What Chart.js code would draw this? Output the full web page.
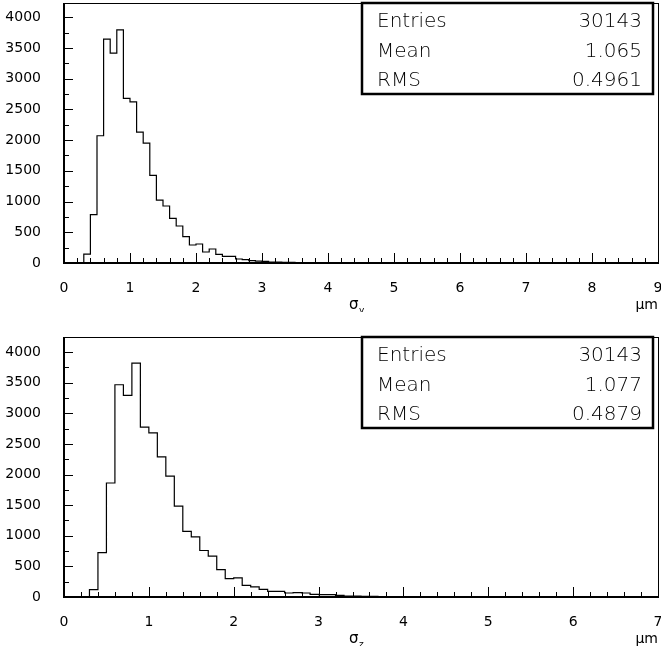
<!DOCTYPE html>
<html>
<head>
<meta charset="utf-8">
<script src="https://cdn.jsdelivr.net/npm/chart.js@4"></script>
<style>
  body { margin: 0; background: #fff; }
  .plot { position: absolute; left: 0; width: 661px; height: 312px; }
</style>
</head>
<body>
<div class="plot" style="top:0"><canvas id="sigmaY" width="661" height="312"></canvas></div>
<div class="plot" style="top:334px"><canvas id="sigmaZ" width="661" height="312"></canvas></div>
<script>
// histogram contents, bins of 0.1 um starting at 0
var binWidth = 0.1;
var sigmaYCounts = [0, 0, 0, 146, 786, 2070, 3642, 3415, 3794, 2677,
    2623, 2130, 1951, 1425, 1024, 927, 726, 602, 428, 293,
    309, 179, 228, 141, 108, 108, 65, 54, 38, 32,
    27, 16, 16, 11, 11, 8, 6, 5, 4, 3,
    3, 2, 2, 1, 1, 1, 0, 0, 0, 0,
    0, 0, 0, 0, 0, 0, 0, 0, 0, 0,
    0, 0, 0, 0, 0, 0, 0, 0, 0, 0,
    0, 0, 0, 0, 0, 0, 0, 0, 0, 0,
    0, 0, 0, 0, 0, 0, 0, 0, 0, 0];
var sigmaZCounts = [0, 0, 0, 120, 726, 1861, 3465, 3291, 3820, 2772,
    2679, 2287, 1975, 1484, 1070, 982, 759, 666, 447, 300,
    311, 191, 164, 126, 93, 93, 65, 71, 65, 44,
    38, 38, 27, 16, 14, 11, 9, 8, 6, 5,
    4, 3, 3, 2, 2, 1, 1, 0, 0, 0,
    0, 0, 0, 0, 0, 0, 0, 0, 0, 0,
    0, 0, 0, 0, 0, 0, 0, 0, 0, 0];
var statsLabels = ['Entries', 'Mean', 'RMS'];
var sigmaYStats = ['30143', '1.065', '0.4961'];
var sigmaZStats = ['30143', '1.077', '0.4879'];
var yTickStep = 250, yTickTop = 4000;   // labels every 500
var xTickStep = 0.2;                    // labels every 1

function isWhole(v) {
    return Math.abs(v - Math.round(v)) < 1e-6;
}

// frame, inward ticks and axis titles drawn like the ROOT canvas
var frameTicks = {
    id: 'frameTicks',
    afterDatasetsDraw: function (chart, args, opts) {
        var ctx = chart.ctx, a = chart.chartArea;
        var xs = chart.scales.x, ys = chart.scales.y;
        ctx.save();
        ctx.strokeStyle = '#000';
        ctx.lineWidth = 1;
        ctx.strokeRect(a.left + 0.5, a.top + 0.5, a.right - a.left, a.bottom - a.top);
        ctx.lineWidth = 2;
        ctx.beginPath();
        ctx.moveTo(a.left, a.top);
        ctx.lineTo(a.left, a.bottom);
        ctx.lineTo(a.right, a.bottom);
        ctx.stroke();

        ctx.lineWidth = 1;
        ctx.beginPath();
        ys.ticks.forEach(function (t) {
            var py = Math.round(ys.getPixelForValue(t.value)) + 0.5;
            var len = (t.value % 500 === 0) ? 9 : 5;
            ctx.moveTo(a.left, py);
            ctx.lineTo(a.left + len, py);
        });
        xs.ticks.forEach(function (t) {
            var px = Math.round(xs.getPixelForValue(t.value)) + 0.5;
            var len = isWhole(t.value) ? 10 : 5;
            ctx.moveTo(px, a.bottom);
            ctx.lineTo(px, a.bottom - len);
        });
        ctx.stroke();

        // axis titles
        ctx.fillStyle = '#000';
        ctx.textBaseline = 'alphabetic';
        ctx.textAlign = 'left';
        ctx.font = '15px "DejaVu Sans"';
        ctx.fillText('σ', 349, a.bottom + 46);
        ctx.font = '9px "DejaVu Sans"';
        ctx.fillText(opts.sub, 359, a.bottom + 50);
        ctx.textAlign = 'right';
        ctx.font = '14px "DejaVu Sans"';
        ctx.fillText('μm', a.right, a.bottom + 46);
        ctx.restore();
    }
};

// statistics box in the upper right corner
var statsBox = {
    id: 'statsBox',
    afterDraw: function (chart, args, opts) {
        var ctx = chart.ctx;
        ctx.save();
        ctx.fillStyle = '#fff';
        ctx.fillRect(362, 3, 291, 91);
        ctx.strokeStyle = '#000';
        ctx.lineWidth = 2.5;
        ctx.strokeRect(362, 3, 291, 91);
        ctx.fillStyle = '#000';
        ctx.font = '300 20px "DejaVu Sans"';
        ctx.textBaseline = 'alphabetic';
        for (var i = 0; i < statsLabels.length; i++) {
            var by = 27 + i * 29.5;
            ctx.textAlign = 'left';
            ctx.fillText(statsLabels[i], 377, by);
            ctx.textAlign = 'right';
            ctx.fillText(opts.values[i], 642, by);
        }
        ctx.restore();
    }
};

function drawHist(canvasId, counts, xMax, yMax, stats, sub) {
    var points = counts.map(function (c, i) {
        return { x: i * binWidth, y: c };
    });
    points.push({ x: counts.length * binWidth, y: counts[counts.length - 1] });

    var ctx = document.getElementById(canvasId).getContext('2d');
    new Chart(ctx, {
        type: 'line',
        data: {
            datasets: [{
                data: points,
                borderColor: '#000',
                borderWidth: 1.2,
                pointRadius: 0,
                fill: false,
                stepped: 'before',
                clip: false
            }]
        },
        options: {
            responsive: false,
            animation: false,
            devicePixelRatio: 1,
            layout: { padding: { top: 3, right: 3, left: 0, bottom: 0 } },
            plugins: {
                legend: { display: false },
                tooltip: { enabled: false },
                frameTicks: { sub: sub },
                statsBox: { values: stats }
            },
            scales: {
                x: {
                    type: 'linear',
                    min: 0,
                    max: xMax,
                    grid: { display: false },
                    border: { display: false },
                    afterBuildTicks: function (scale) {
                        var t = [];
                        for (var v = 0; v <= xMax + 1e-6; v += xTickStep) {
                            t.push({ value: Math.round(v * 10) / 10 });
                        }
                        scale.ticks = t;
                    },
                    afterFit: function (scale) {
                        scale.height = 49;
                        scale.paddingLeft = 0;
                        scale.paddingRight = 0;
                    },
                    ticks: {
                        autoSkip: false,
                        maxRotation: 0,
                        padding: 9,
                        color: '#000',
                        font: { family: 'DejaVu Sans', size: 14 },
                        callback: function (v) {
                            return isWhole(v) ? String(Math.round(v)) : '';
                        }
                    }
                },
                y: {
                    min: 0,
                    max: yMax,
                    grid: { display: false },
                    border: { display: false },
                    afterBuildTicks: function (scale) {
                        var t = [];
                        for (var v = 0; v <= yTickTop; v += yTickStep) {
                            t.push({ value: v });
                        }
                        scale.ticks = t;
                    },
                    afterFit: function (scale) {
                        scale.width = 64;
                        scale.paddingTop = 0;
                        scale.paddingBottom = 0;
                    },
                    ticks: {
                        autoSkip: false,
                        padding: 15,
                        color: '#000',
                        font: { family: 'DejaVu Sans', size: 14 },
                        callback: function (v) {
                            return v % 500 === 0 ? String(v) : '';
                        }
                    }
                }
            }
        },
        plugins: [frameTicks, statsBox]
    });
}

drawHist('sigmaY', sigmaYCounts, 9, 4230, sigmaYStats, 'y');
drawHist('sigmaZ', sigmaZCounts, 7, 4245, sigmaZStats, 'z');
</script>
</body>
</html>
